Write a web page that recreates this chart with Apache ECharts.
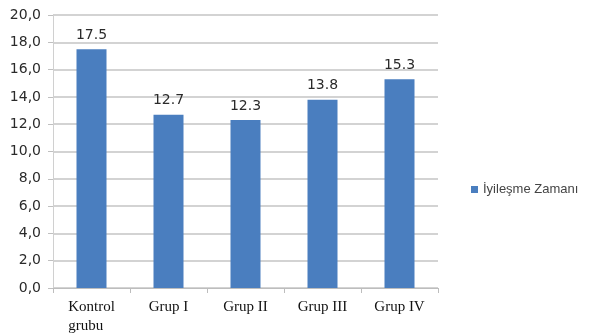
<!DOCTYPE html>
<html>
<head>
<meta charset="utf-8">
<script src="https://cdn.jsdelivr.net/npm/echarts@6/dist/echarts.min.js"></script>
<style>
  html, body { margin: 0; padding: 0; background: #fff; }
  #chart { width: 594px; height: 336px; }
</style>
</head>
<body>
<div id="chart"></div>
<script>
// Healing time per group
const categories = ['Kontrol\ngrubu', 'Grup I', 'Grup II', 'Grup III', 'Grup IV'];
const healingTimes = [17.5, 12.7, 12.3, 13.8, 15.3];
const seriesName = 'İyileşme Zamanı';

const chart = echarts.init(document.getElementById('chart'));
chart.setOption({
  animation: false,
  backgroundColor: '#fff',
  grid: { left: 53, right: 156, top: 15, bottom: 48 },
  legend: {
    data: [seriesName],
    left: 466, top: 178,
    itemWidth: 7, itemHeight: 7,
    itemGap: 4,
    icon: 'rect',
    textStyle: { fontFamily: 'Liberation Sans Narrow, Liberation Sans, sans-serif', fontSize: 13, color: '#444' }
  },
  xAxis: {
    type: 'category',
    data: categories,
    axisLine: { show: true, lineStyle: { color: '#bdbdbd', width: 1 } },
    axisTick: { show: true, length: 5, lineStyle: { color: '#bdbdbd' } },
    axisLabel: {
      interval: 0,
      hideOverlap: false,
      margin: 10,
      fontFamily: 'Liberation Serif, serif',
      fontSize: 15,
      color: '#111',
      lineHeight: 19,
      verticalAlign: 'top',
      formatter: v => v.split('\n').map(s => '{l|' + s + '}').join('\n'),
      rich: {
        l: { align: 'left', fontFamily: 'Liberation Serif, serif', fontSize: 15, color: '#111', lineHeight: 19 }
      }
    }
  },
  yAxis: {
    type: 'value',
    min: 0, max: 20, interval: 2,
    axisLine: { show: true, lineStyle: { color: '#d0d0d0' } },
    axisTick: { show: true, length: 5, lineStyle: { color: '#c0c0c0' } },
    splitLine: { lineStyle: { color: '#c4c4c4', width: 1.5 } },
    axisLabel: {
      margin: 12,
      fontFamily: 'DejaVu Sans, sans-serif',
      fontSize: 14,
      color: '#2a2a2a',
      formatter: v => v.toFixed(1).replace('.', ',')
    }
  },
  series: [{
    name: seriesName,
    type: 'bar',
    data: healingTimes,
    barWidth: 30,
    itemStyle: { color: '#4a7ebf' },
    label: {
      show: true,
      position: 'top',
      distance: 7,
      fontFamily: 'DejaVu Sans, sans-serif',
      fontSize: 14,
      color: '#2a2a2a',
      formatter: p => p.value.toFixed(1)
    }
  }]
});
</script>
</body>
</html>
